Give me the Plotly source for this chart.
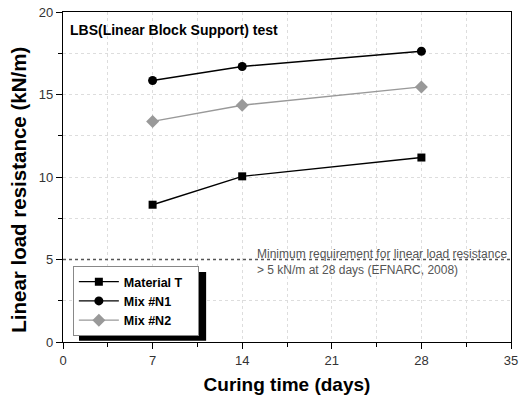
import plotly.graph_objects as go

# Curing ages (days) and linear load resistance (kN/m) per mix
curing_days = [7, 14, 28]
material_t = [8.32, 10.04, 11.18]
mix_n1 = [15.85, 16.70, 17.62]
mix_n2 = [13.37, 14.35, 15.46]
series_names = ["Material T", "Mix #N1", "Mix #N2"]

x_ticks = [0, 7, 14, 21, 28, 35]
y_ticks = [0, 5, 10, 15, 20]
requirement_kn = 5

FONT = "Arial, 'Liberation Sans', sans-serif"
GRAY = "#999999"
PAD = "\u00a0" * 3  # a little right padding inside the legend box

fig = go.Figure()

series = [
    (material_t, series_names[0], "black", "square", 8),
    (mix_n1, series_names[1], "black", "circle", 9),
    (mix_n2, series_names[2], GRAY, "diamond", 10),
]
for vals, name, color, symbol, size in series:
    fig.add_trace(go.Scatter(
        x=curing_days, y=vals, name=f"<b>{name}</b>{PAD}", mode="lines+markers",
        line=dict(color=color, width=1.4),
        marker=dict(symbol=symbol, size=size, color=color),
    ))

# EFNARC minimum requirement line
fig.add_shape(type="line", xref="x", yref="y", x0=0, x1=35,
              y0=requirement_kn, y1=requirement_kn,
              line=dict(color="#555555", width=1.3, dash="dot"))

fig.add_annotation(
    x=15.0, y=requirement_kn, xref="x", yref="y", xanchor="left", yanchor="middle",
    text="Minimum requirement for linear load resistance<br>> 5 kN/m at 28 days (EFNARC, 2008)",
    showarrow=False, align="left", yshift=-2,
    font=dict(family=FONT, size=12, color="#555555"),
)

fig.add_annotation(
    x=0.012, y=0.945, xref="paper", yref="paper", xanchor="left", yanchor="middle",
    text="<b>LBS(Linear Block Support) test</b>", showarrow=False,
    font=dict(family=FONT, size=14, color="black"),
)

# Y axis title, placed as a rotated label
fig.add_annotation(
    x=-0.0993, y=0.46, xref="paper", yref="paper", xanchor="center", yanchor="middle",
    text="<b>Linear load resistance (kN/m)</b>", textangle=-90, showarrow=False,
    font=dict(family=FONT, size=20.5, color="black"),
)

# Legend drop shadow
fig.add_shape(type="rect", xref="paper", yref="paper",
              x0=0.0357, x1=0.3195, y0=0.004, y1=0.212,
              fillcolor="black", line=dict(width=0), layer="above")

axis_common = dict(
    showline=True, linecolor="black", linewidth=1.4, mirror=True,
    ticks="outside", ticklen=6, tickwidth=1.2, tickcolor="black",
    showgrid=True, gridcolor="#dddddd", griddash="dot", gridwidth=1,
    zeroline=False, automargin=False,
    tickfont=dict(family=FONT, size=13, color="#333333"),
)

fig.update_xaxes(
    range=[0, 35], tickvals=x_ticks,
    minor=dict(dtick=3.5, ticks="outside", ticklen=4, tickcolor="black",
               showgrid=True, gridcolor="#dddddd", griddash="dot"),
    title=dict(text="<b>Curing time (days)</b>", standoff=10,
               font=dict(family=FONT, size=19, color="black")),
    **axis_common,
)
fig.update_yaxes(
    range=[0, 20], tickvals=y_ticks,
    minor=dict(dtick=2.5, ticks="outside", ticklen=4, tickcolor="black",
               showgrid=True, gridcolor="#dddddd", griddash="dot"),
    **axis_common,
)

fig.update_layout(
    width=519, height=400,
    margin=dict(l=63, r=8, t=12, b=58),
    paper_bgcolor="white", plot_bgcolor="white",
    legend=dict(
        x=0.022, y=0.2303, xanchor="left", yanchor="top",
        bgcolor="white", bordercolor="#888888", borderwidth=1,
        font=dict(family=FONT, size=12.5, color="black"),
        tracegroupgap=0, itemwidth=40,
    ),
    showlegend=True,
)

fig.write_html("out.html")
